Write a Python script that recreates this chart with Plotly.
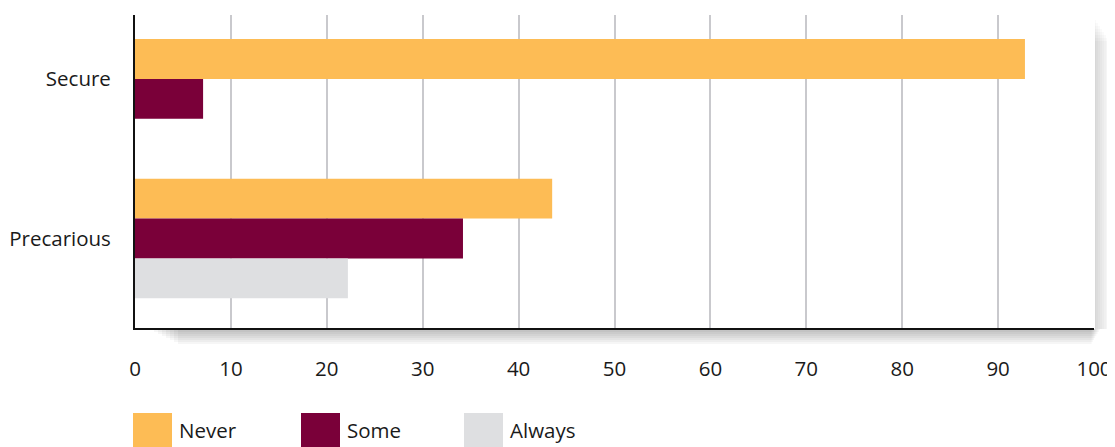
import plotly.graph_objects as go

categories = ["Secure", "Precarious"]
series_names = ["Never", "Some", "Always"]
never = [92.8, 43.5]
some = [7.1, 34.2]
always = [None, 22.2]
colors = ["#FDBC55", "#7A0039", "#DEDFE1"]
x_ticks = list(range(0, 101, 10))

values = [never, some, always]
bw = 0.25
offsets = {
    "Never": [-bw, -1.5 * bw],
    "Some": [0, -0.5 * bw],
    "Always": [bw, 0.5 * bw],
}

FONT = "Open Sans"
TXT = "#1a1a1a"
FS = 20.5

fig = go.Figure()
for name, vals, col in zip(series_names, values, colors):
    fig.add_trace(go.Bar(
        y=categories, x=vals, orientation="h", name=name,
        marker=dict(color=col, line=dict(width=0)),
        width=[bw, bw], offset=offsets[name], showlegend=False,
    ))

# page body has an 8px margin: figure is sized/placed to compensate
PAGE = 8
W, H = 1115 - PAGE, 447 - PAGE
L, R, T, B = 135 - PAGE, 21, 15 - PAGE, H - (328 - PAGE)
pw, ph = W - L - R, H - T - B


def px_x(p):  # screen px -> paper x
    return (p - PAGE - L) / pw


def px_y(p):  # screen px -> paper y
    return (H - B - (p - PAGE)) / ph


shapes = []
annotations = []
legend_swatch_left = [133, 301, 464]
for name, col, sx in zip(series_names, colors, legend_swatch_left):
    shapes.append(dict(type="rect", xref="paper", yref="paper",
                       x0=px_x(sx), x1=px_x(sx + 39), y0=px_y(447), y1=px_y(413),
                       fillcolor=col, line=dict(width=0), layer="above"))
    annotations.append(dict(xref="paper", yref="paper", x=px_x(sx + 44), y=px_y(430),
                            xanchor="left", yanchor="middle", text=name, showarrow=False,
                            font=dict(family=FONT, size=FS, color=TXT)))

# soft drop shadow below the x axis and to the right of the plot
for i in range(8):
    a = 0.035
    shapes.append(dict(type="rect", xref="paper", yref="paper",
                       x0=px_x(150 + i * 4), x1=px_x(1100 - i * 1.2),
                       y0=px_y(330 + 2 * i), y1=px_y(329),
                       fillcolor="rgba(0,0,0,%.3f)" % a, line=dict(width=0), layer="below"))
    shapes.append(dict(type="rect", xref="paper", yref="paper",
                       x0=px_x(1095), x1=px_x(1096 + 2 * i),
                       y0=px_y(329), y1=px_y(20 + i * 3),
                       fillcolor="rgba(0,0,0,%.3f)" % (a * 0.6), line=dict(width=0), layer="below"))

fig.update_layout(
    width=W, height=H,
    margin=dict(l=L, r=R, t=T, b=B, autoexpand=False),
    paper_bgcolor="white", plot_bgcolor="rgba(0,0,0,0)",
    font=dict(family=FONT, size=FS, color=TXT),
    barmode="overlay",
    showlegend=False,
    shapes=shapes,
    annotations=annotations,
)
fig.update_xaxes(
    range=[0, 100], tickvals=x_ticks, showgrid=True, gridcolor="#C9C9CD", gridwidth=2,
    showline=True, linecolor="#111", linewidth=2, zeroline=False,
    ticks="", ticklabelstandoff=21, fixedrange=True, automargin=False,
    tickfont=dict(size=FS),
)
fig.update_yaxes(
    type="category", range=[1.561, -0.401], showgrid=False,
    showline=True, linecolor="#111", linewidth=2, zeroline=False,
    ticks="", ticklabelstandoff=18, automargin=False,
    tickfont=dict(size=FS),
)
fig.write_html("out.html")
